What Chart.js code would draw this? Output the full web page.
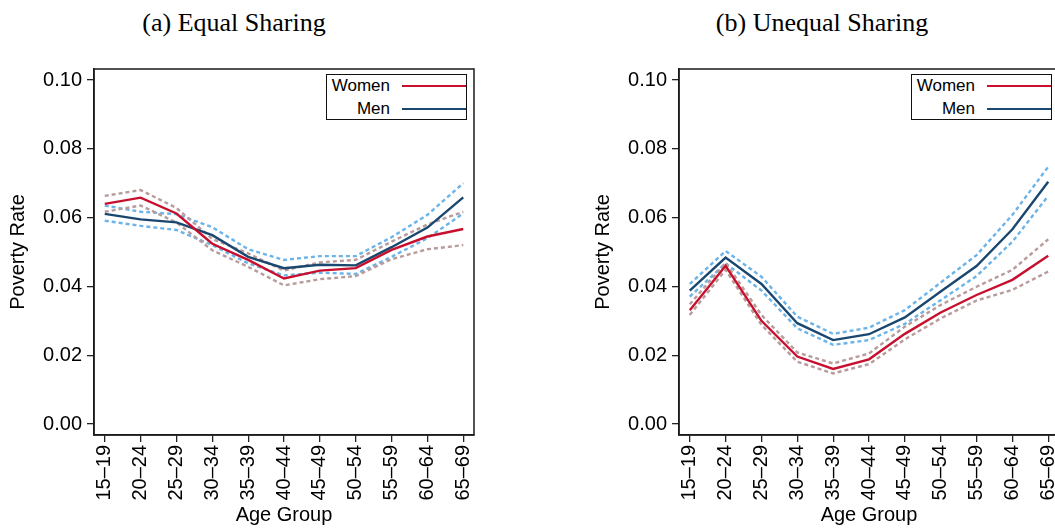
<!DOCTYPE html>
<html><head><meta charset="utf-8">
<script src="https://cdn.jsdelivr.net/npm/chart.js@4.4.1/dist/chart.umd.min.js"></script>
<style>
html,body{margin:0;padding:0;background:#fff;overflow:hidden;width:1055px;height:529px;position:relative;}
.panel{position:absolute;top:0;width:480px;height:529px;}
.panel canvas{position:absolute;left:0;top:0;}
.title{position:absolute;font-family:"Liberation Serif","Times New Roman",serif;font-size:26px;color:#000;white-space:nowrap;transform:translateX(-50%);top:8px;line-height:30px;}
.legend{position:absolute;width:141px;height:46px;border:1.3px solid #111;background:#fff;font-family:"Liberation Sans",Arial,sans-serif;font-size:17px;color:#000;box-sizing:border-box;}
.legend .row{position:absolute;left:0;width:100%;height:22px;}
.legend .lab{position:absolute;right:76px;top:0;line-height:22px;}
.legend .ln{position:absolute;left:75px;width:64px;top:10px;height:0;border-top:2.4px solid;}
</style></head>
<body>
<div class="title" style="left:234px;">(a) Equal Sharing</div>
<div class="title" style="left:822px;">(b) Unequal Sharing</div>
<div class="panel" style="left:0px;"><canvas id="c1" width="480" height="529"></canvas></div>
<div class="panel" style="left:585px;"><canvas id="c2" width="480" height="529"></canvas></div>
<div class="legend" style="left:326px;top:74px;">
  <div class="row" style="top:0px;"><span class="lab">Women</span><span class="ln" style="border-color:#c8102e"></span></div>
  <div class="row" style="top:23px;"><span class="lab">Men</span><span class="ln" style="border-color:#1a476f"></span></div>
</div>
<div class="legend" style="left:911px;top:74px;">
  <div class="row" style="top:0px;"><span class="lab">Women</span><span class="ln" style="border-color:#c8102e"></span></div>
  <div class="row" style="top:23px;"><span class="lab">Men</span><span class="ln" style="border-color:#1a476f"></span></div>
</div>
<script>
const ageGroups = ['15–19','20–24','25–29','30–34','35–39','40–44','45–49','50–54','55–59','60–64','65–69'];
const yTickValues = [0, 0.02, 0.04, 0.06, 0.08, 0.10];
const yTickLabels = ['0.00','0.02','0.04','0.06','0.08','0.10'];

// (a) Equal Sharing
const equalWomen   = [0.0640,0.0658,0.0612,0.0524,0.0477,0.0423,0.0446,0.0453,0.0506,0.0545,0.0567];
const equalWomenHi = [0.0663,0.0680,0.0628,0.0538,0.0496,0.0446,0.0470,0.0477,0.0530,0.0580,0.0617];
const equalWomenLo = [0.0617,0.0635,0.0586,0.0505,0.0457,0.0403,0.0421,0.0430,0.0479,0.0508,0.0520];
const equalMen     = [0.0611,0.0595,0.0586,0.0549,0.0486,0.0453,0.0463,0.0461,0.0514,0.0571,0.0659];
const equalMenHi   = [0.0635,0.0617,0.0610,0.0572,0.0508,0.0477,0.0488,0.0488,0.0543,0.0608,0.0700];
const equalMenLo   = [0.0591,0.0576,0.0564,0.0520,0.0467,0.0432,0.0440,0.0436,0.0486,0.0540,0.0612];

// (b) Unequal Sharing
const unequalWomen   = [0.0331,0.0460,0.0300,0.0196,0.0160,0.0188,0.0262,0.0324,0.0375,0.0419,0.0489];
const unequalWomenHi = [0.0348,0.0469,0.0317,0.0208,0.0176,0.0205,0.0283,0.0346,0.0399,0.0448,0.0537];
const unequalWomenLo = [0.0317,0.0448,0.0288,0.0181,0.0147,0.0174,0.0246,0.0307,0.0359,0.0390,0.0443];
const unequalMen     = [0.0388,0.0484,0.0407,0.0293,0.0244,0.0261,0.0310,0.0385,0.0459,0.0566,0.0704];
const unequalMenHi   = [0.0407,0.0503,0.0428,0.0312,0.0262,0.0280,0.0331,0.0411,0.0491,0.0608,0.0748];
const unequalMenLo   = [0.0370,0.0467,0.0388,0.0278,0.0230,0.0244,0.0291,0.0360,0.0430,0.0530,0.0663];

const RED = '#c8102e', NAVY = '#1a476f', CIW = '#b89c9c', CIM = '#6cb4e8';
const FONT = '"Liberation Sans", Arial, sans-serif';

const boxPlugin = {
  id: 'box',
  afterDraw(chart) {
    const a = chart.chartArea, ctx = chart.ctx;
    ctx.save();
    ctx.strokeStyle = '#1a1a1a';
    ctx.lineWidth = 1.5;
    ctx.strokeRect(a.left, a.top, a.right - a.left, a.bottom - a.top);
    ctx.restore();
  }
};

function pts(arr) { return arr.map((v, i) => ({ x: i, y: v })); }
function solid(label, arr, color) {
  return { label, data: pts(arr), borderColor: color, backgroundColor: color, borderWidth: 2.4, pointRadius: 0, tension: 0, fill: false };
}
function dashed(label, arr, color) {
  return { label, data: pts(arr), borderColor: color, backgroundColor: color, borderWidth: 2.4, borderDash: [4, 3], pointRadius: 0, tension: 0, fill: false };
}

function makeChart(id, w, wLo, wHi, m, mLo, mHi) {
  new Chart(document.getElementById(id), {
    type: 'line',
    data: {
      datasets: [
        solid('Women', w, RED),
        solid('Men', m, NAVY),
        dashed('Women upper', wHi, CIW),
        dashed('Women lower', wLo, CIW),
        dashed('Men upper', mHi, CIM),
        dashed('Men lower', mLo, CIM)
      ]
    },
    options: {
      responsive: false,
      animation: false,
      devicePixelRatio: 1,
      layout: { padding: { top: 69, right: 6, left: 0, bottom: 0 } },
      plugins: { legend: { display: false }, tooltip: { enabled: false } },
      scales: {
        x: {
          type: 'linear', min: -0.3, max: 10.3,
          afterBuildTicks: s => { s.ticks = ageGroups.map((_, i) => ({ value: i })); },
          afterFit: s => { s.height = 94; s.paddingLeft = 0; s.paddingRight = 0; },
          ticks: { callback: (v, i) => ageGroups[i], minRotation: 90, maxRotation: 90, autoSkip: false,
                   font: { size: 20, family: FONT }, color: '#000', padding: 3 },
          grid: { display: true, drawOnChartArea: false, drawTicks: true, tickLength: 7, color: '#222', lineWidth: 1.3 },
          border: { display: true, color: '#1a1a1a', width: 1.5 },
          title: { display: true, text: 'Age Group', color: '#000', font: { size: 20, family: FONT }, padding: { top: 0, bottom: 2 } }
        },
        y: {
          min: -0.0032, max: 0.1032,
          afterBuildTicks: s => { s.ticks = yTickValues.map(v => ({ value: v })); },
          afterFit: s => { s.width = 94; s.paddingTop = 0; s.paddingBottom = 0; },
          ticks: { callback: (v, i) => yTickLabels[i], font: { size: 20, family: FONT }, color: '#000', padding: 5 },
          grid: { display: true, drawOnChartArea: false, drawTicks: true, tickLength: 7, color: '#222', lineWidth: 1.3 },
          border: { display: true, color: '#1a1a1a', width: 1.5 },
          title: { display: true, text: 'Poverty Rate', color: '#000', font: { size: 20, family: FONT }, padding: { top: 6, bottom: 0 } }
        }
      }
    },
    plugins: [boxPlugin]
  });
}

makeChart('c1', equalWomen, equalWomenLo, equalWomenHi, equalMen, equalMenLo, equalMenHi);
makeChart('c2', unequalWomen, unequalWomenLo, unequalWomenHi, unequalMen, unequalMenLo, unequalMenHi);
</script>
</body></html>
